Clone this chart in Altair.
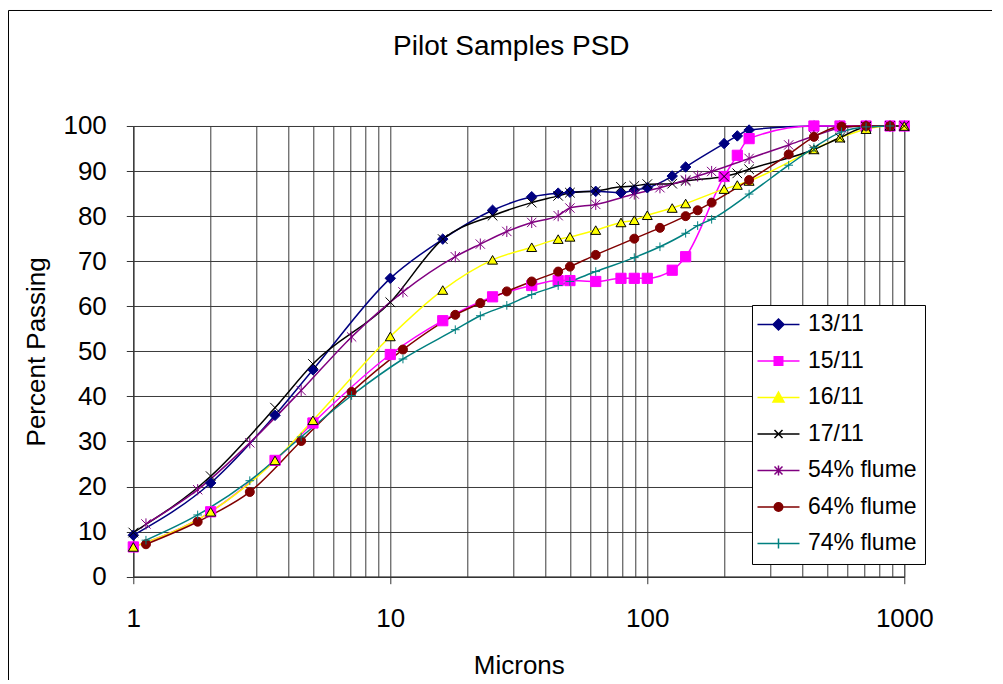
import altair as alt
import pandas as pd

series_names = ["13/11", "15/11", "16/11", "17/11", "54% flume", "64% flume", "74% flume"]

# x positions (microns) for the dated samples and for the flume samples
x_dates = [1, 2, 3.56, 5, 10, 16, 25, 35.5, 45, 50, 63, 79, 89, 100, 125, 141,
           199, 224, 249, 445, 562, 710, 880, 1000]
x_flume = [1.12, 1.78, 2.84, 4.5, 7.07, 11.2, 17.9, 22.4, 28.4, 35.5, 45, 50, 63,
           89, 112, 141, 157, 178, 249, 355, 445, 570, 710, 880]

y_1311 = [9.2, 20.8, 35.8, 45.9, 66.2, 74.9, 81.3, 84.3, 85.1, 85.3, 85.5, 85.2,
          85.8, 86.3, 88.9, 90.9, 96.1, 97.8, 99.1, 100, 100, 100, 100, 100]
y_1511 = [6.6, 14.4, 25.8, 34.1, 49.3, 56.8, 62.1, 64.6, 65.7, 65.7, 65.5, 66.2,
          66.2, 66.2, 68.0, 71.0, 88.8, 93.5, 97.2, 100, 100, 100, 100, 100]
y_1611 = [6.6, 14.4, 25.8, 34.7, 53.3, 63.6, 70.3, 73.1, 74.9, 75.4, 76.9, 78.6,
          79.1, 80.2, 81.8, 82.8, 86.0, 86.9, 87.8, 94.8, 97.4, 99.3, 100, 100]
y_1711 = [9.8, 22.3, 37.5, 47.2, 60.9, 74.9, 80.1, 83.0, 84.5, 85.2, 85.6, 86.5,
          86.7, 87.1, 87.2, 87.8, 88.8, 89.5, 90.4, 94.8, 97.4, 99.8, 100, 100]
y_54 = [11.7, 19.3, 29.7, 41.3, 53.2, 63.2, 71.0, 73.8, 76.6, 78.6, 80.1, 81.8,
        82.6, 84.9, 86.3, 88.0, 88.9, 89.9, 92.8, 95.8, 97.8, 99.6, 100, 100]
y_64 = [7.2, 12.2, 18.8, 30.1, 41.0, 50.4, 58.1, 60.7, 63.3, 65.5, 67.7, 68.8,
        71.4, 75.0, 77.4, 80.0, 81.3, 83.0, 88.0, 93.7, 97.6, 99.9, 100, 100]
y_74 = [8.1, 13.7, 21.3, 31.0, 40.2, 48.3, 54.8, 57.9, 60.2, 62.6, 64.6, 65.5,
        67.7, 70.8, 73.2, 76.2, 77.9, 79.3, 84.9, 91.3, 95.2, 98.7, 99.8, 100]

x_ticks = [1, 10, 100, 1000]
x_grid = [1, 2, 3, 4, 5, 6, 7, 8, 9, 10, 20, 30, 40, 50, 60, 70, 80, 90,
          100, 200, 300, 400, 500, 600, 700, 800, 900, 1000]
y_ticks = [0, 10, 20, 30, 40, 50, 60, 70, 80, 90, 100]

rows = []
for name, xs, ys in [("13/11", x_dates, y_1311), ("15/11", x_dates, y_1511),
                     ("16/11", x_dates, y_1611), ("17/11", x_dates, y_1711),
                     ("54% flume", x_flume, y_54), ("64% flume", x_flume, y_64),
                     ("74% flume", x_flume, y_74)]:
    for xv, yv in zip(xs, ys):
        rows.append({"series": name, "micron": xv, "pct": yv})
df = pd.DataFrame(rows)

FONT = "Liberation Sans"
line_colors = ["#000080", "#FF00FF", "#FFFF00", "#000000", "#800080", "#800000", "#008080"]
fill_colors = ["#000080", "#FF00FF", "#FFFF00", "#000000", "#800080", "#800000", "#008080"]
edge_colors = ["#000080", "#FF00FF", "#000000", "#000000", "#800080", "#800000", "#008080"]
X_PATH = "M-1,-1L1,1M-1,1L1,-1"
AST_PATH = "M-1,-1L1,1M-1,1L1,-1M0,-1.2V1.2"
PLUS_PATH = "M-1,0H1M0,-1V1"
marker_shapes = ["diamond", "square", "triangle-up", X_PATH, AST_PATH, "circle", PLUS_PATH]
marker_sizes = [110, 75, 120, 70, 70, 80, 80]

L = "M-4.2,0H4.2"
legend_shapes = [
    L + "M0,-1.1L1.1,0L0,1.1L-1.1,0Z",
    L + "M-0.85,-0.85H0.85V0.85H-0.85Z",
    L + "M0,-1.1L1.1,0.9H-1.1Z",
    L + "M-0.8,-0.8L0.8,0.8M-0.8,0.8L0.8,-0.8",
    L + "M-0.8,-0.8L0.8,0.8M-0.8,0.8L0.8,-0.8M0,-1V1",
    L + "M0.85,0A0.85,0.85,0,1,1,-0.85,0A0.85,0.85,0,1,1,0.85,0Z",
    L + "M0,-1V1",
]

W, H = 771, 450.7
major_test = "datum.value == 1 || datum.value == 10 || datum.value == 100 || datum.value == 1000"

xenc = alt.X("micron:Q",
             scale=alt.Scale(type="log", domain=[1, 1000], nice=False),
             axis=alt.Axis(values=x_grid, grid=True, gridColor="#3a3a3a", gridWidth=1,
                           labelExpr="(" + major_test + ") ? format(datum.value, 'd') : ''",
                           labelOverlap=False, labelFlush=False,
                           tickOpacity={"condition": {"test": major_test, "value": 1}, "value": 0},
                           tickSize=7, tickColor="#333", domainColor="#333", domainWidth=1.5,
                           labelFont=FONT, labelFontSize=26, labelColor="black", labelPadding=22,
                           title="Microns", titleFont=FONT, titleFontSize=26,
                           titleFontWeight="normal", titleColor="black", titlePadding=21))
yenc = alt.Y("pct:Q",
             scale=alt.Scale(domain=[0, 100], nice=False),
             axis=alt.Axis(values=y_ticks, grid=True, gridColor="#3a3a3a", gridWidth=1,
                           tickSize=7, tickColor="#333", domainColor="#333", domainWidth=1,
                           labelFont=FONT, labelFontSize=26, labelColor="black", labelPadding=20,
                           title="Percent Passing", titleFont=FONT, titleFontSize=26,
                           titleFontWeight="normal", titleColor="black", titlePadding=13))

border = alt.Chart(pd.DataFrame({"a": [0]})).mark_rect(
    fillOpacity=0, stroke="black", strokeWidth=1, clip=False
).encode(x=alt.value(-124.8), x2=alt.value(1000), y=alt.value(-115.5), y2=alt.value(800))

title = alt.Chart(pd.DataFrame({"a": [0]})).mark_text(
    font=FONT, fontSize=28, color="black", baseline="middle", align="center"
).encode(x=alt.value(378), y=alt.value(-79), text=alt.value("Pilot Samples PSD"))

lines = alt.Chart(df).mark_line(interpolate="monotone", strokeWidth=1.5).encode(
    x=xenc, y=yenc,
    color=alt.Color("series:N", scale=alt.Scale(domain=series_names, range=line_colors), legend=None),
    detail="series:N",
)

points = alt.Chart(df).mark_point(filled=True, opacity=1, strokeWidth=1).encode(
    x=xenc, y=yenc,
    shape=alt.Shape("series:N", scale=alt.Scale(domain=series_names, range=marker_shapes), legend=None),
    fill=alt.Fill("series:N", scale=alt.Scale(domain=series_names, range=fill_colors), legend=None),
    stroke=alt.Stroke("series:N", scale=alt.Scale(domain=series_names, range=edge_colors), legend=None),
    size=alt.Size("series:N", scale=alt.Scale(domain=series_names, range=marker_sizes), legend=None),
)

legend_layer = alt.Chart(df).mark_point(filled=True, opacity=0).encode(
    x=xenc, y=yenc,
    shape=alt.Shape("series:N", scale=alt.Scale(domain=series_names, range=legend_shapes),
                    legend=alt.Legend(title=None, orient="none", legendX=618.7, legendY=179,
                                      fillColor="white", strokeColor="black", padding=8,
                                      labelFont=FONT, labelFontSize=23, labelColor="black",
                                      labelLimit=400, symbolSize=100, symbolStrokeWidth=1.5,
                                      symbolOpacity=1, symbolOffset=7, labelOffset=18,
                                      rowPadding=12.5)),
    fill=alt.Fill("series:N", scale=alt.Scale(domain=series_names, range=fill_colors)),
    stroke=alt.Stroke("series:N", scale=alt.Scale(domain=series_names, range=line_colors)),
)

chart = alt.layer(border, title, lines, points, legend_layer).resolve_scale(
    shape="independent", fill="independent", stroke="independent"
).properties(
    width=W, height=H,
    padding={"left": 125.3, "top": 118, "right": 88, "bottom": 103},
    autosize=alt.AutoSizeParams(type="none"),
    background="white",
).configure_view(stroke="#808080", strokeWidth=1)

chart.save("out.html", embed_options={"renderer": "svg", "actions": False})
